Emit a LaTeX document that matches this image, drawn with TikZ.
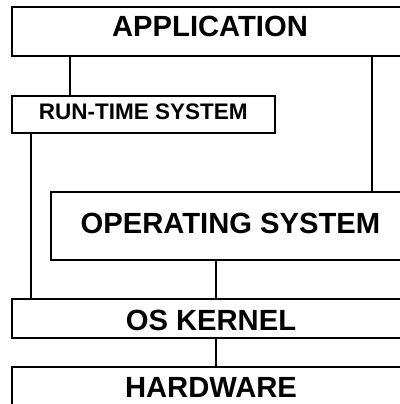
\documentclass[tikz,border=0pt]{standalone}
\usepackage{fontspec}
\setmainfont{Liberation Sans}
\begin{document}
\begin{tikzpicture}[x=1pt,y=-1pt,
  box/.style={draw,line width=1.3pt,rectangle,inner sep=0pt},
  big/.style={anchor=base,inner sep=0pt,font=\fontsize{29.2}{30}\selectfont\bfseries},
  small/.style={anchor=base,inner sep=0pt,font=\fontsize{22.5}{23}\selectfont\bfseries},
  wire/.style={line width=1.3pt}]
\useasboundingbox (0,0) rectangle (399,404);
\node[box,minimum width=389pt,minimum height=49pt] (app) at (206.5,31.5) {};
\node[box,minimum width=263pt,minimum height=37pt] (rts) at (143.5,114.5) {};
\node[box,minimum width=350pt,minimum height=68pt] (os) at (226,226) {};
\node[box,minimum width=389pt,minimum height=39pt] (ker) at (206.5,318.5) {};
\node[box,minimum width=389pt,minimum height=43pt] (hw) at (206.5,388.5) {};
\node[big] (tapp) at (210,37) {APPLICATION};
\node[small] (trts) at (143.3,119) {RUN-TIME SYSTEM};
\node[big] (tos) at (230.5,233) {OPERATING SYSTEM};
\node[big] (tker) at (211,330) {OS KERNEL};
\node[big] (thw) at (211,397) {HARDWARE};
\draw[wire] (app.south -| 70,0) -- (rts.north -| 70,0);
\draw[wire] (app.south -| 372,0) -- (os.north -| 372,0);
\draw[wire] (rts.south -| 31,0) -- (ker.north -| 31,0);
\draw[wire] (os.south -| 216,0) -- (ker.north -| 216,0);
\draw[wire] (ker.south -| 216,0) -- (hw.north -| 216,0);
\end{tikzpicture}
\end{document}
